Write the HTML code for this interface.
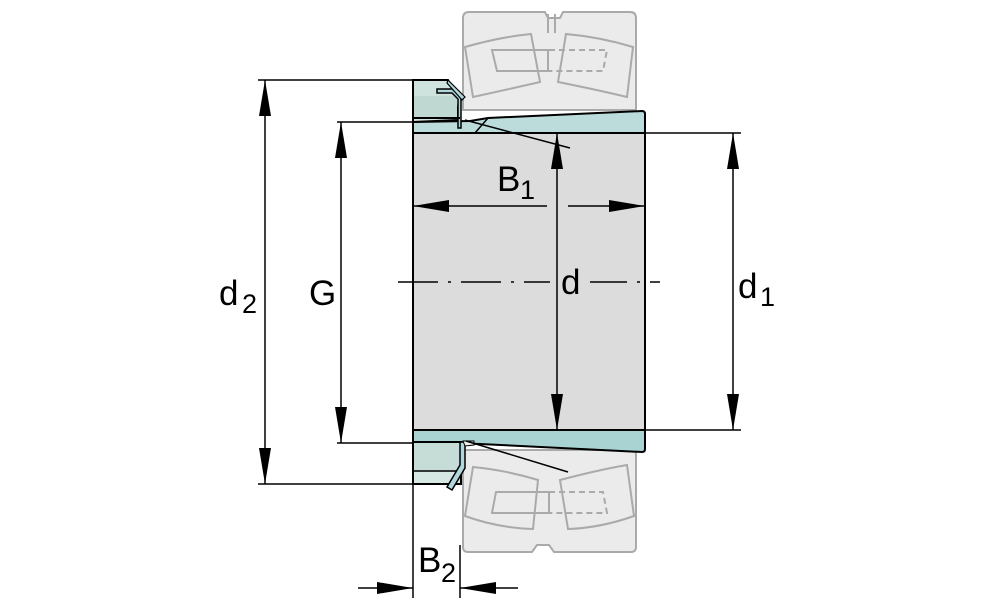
<!DOCTYPE html>
<html><head><meta charset="utf-8"><style>html,body{margin:0;padding:0;background:#fff}svg{display:block}</style></head>
<body>
<svg width="1000" height="611" viewBox="0 0 1000 611" xmlns="http://www.w3.org/2000/svg" font-family="Liberation Sans, sans-serif">
<defs>
<marker id="a" viewBox="0 0 36 12" refX="36" refY="6" markerWidth="36" markerHeight="12" markerUnits="userSpaceOnUse" orient="auto-start-reverse"><path d="M0,0 L36,6 L0,12 z" fill="#000"/></marker>
</defs>
<!-- bearing top -->
<g fill="#ebebeb" stroke="#aaa" stroke-width="2">
<path d="M463,18 q0,-6 6,-6 h76 l3,6 h12 l3,-6 h67 q6,0 6,6 v92 h-173 z"/>
<path d="M465,47 Q500,37 531,34 L540,82 Q505,90 473,97 Z" fill="none"/>
<path d="M566,34 Q600,37 633,47 L627,97 Q598,90 558,82 Z" fill="none"/>
<path d="M492,50 L548,50 L548,71 L497,71 Z" fill="none"/>
<path d="M549,50 L607,50 L603,71 L549,71" fill="none" stroke-dasharray="6,4"/>
<line x1="548" y1="14" x2="548" y2="33"/><line x1="555" y1="14" x2="555" y2="33"/>
</g>
<!-- bearing bottom -->
<g fill="#ebebeb" stroke="#aaa" stroke-width="2">
<path d="M463,450 h173 v97 q0,5 -5,5 h-77 l-5,-7 h-12 l-5,7 h-64 q-5,0 -5,-5 z"/>
<path d="M473,467 Q505,470 538,480 L533,529 Q498,528 465,516 Z" fill="none"/>
<path d="M560,480 Q598,470 627,465 L634,516 Q600,528 568,529 Z" fill="none"/>
<path d="M496,492 L549,492 L549,513 L492,513 Z" fill="none"/>
<path d="M549,492 L603,492 L607,513 L549,513" fill="none" stroke-dasharray="6,4"/>
</g>
<!-- sleeve top -->
<path d="M413,122 L413,133 L645,133 L645,114 Q645,111 642,111 L488,118 L470,121 Z" fill="#bcdcdc" stroke="#000" stroke-width="2"/>
<!-- main body -->
<rect x="413" y="133" width="232" height="297" fill="#dcdcdc" stroke="#000" stroke-width="2"/>
<!-- sleeve bottom -->
<path d="M413,430 L645,430 L645,449 Q645,452 642,452 L480,444 L413,442 Z" fill="#a9d3d3" stroke="#000" stroke-width="2"/>
<!-- nut top -->
<path d="M413,80 L448,80 L455,95 L458,120 L413,122 Z" fill="#cfe3de" stroke="#000" stroke-width="2"/>
<rect x="414" y="96" width="43" height="23" fill="#bfd9d2"/>
<path d="M437,89 L452,89 L461,97 L461,128 L458,128 L458,99 L452,93 L437,93 Z" fill="#b0d8dc" stroke="#000" stroke-width="1.5"/>
<path d="M448,80 L465,97 L462,100 L447,83 Z" fill="#b0d8dc" stroke="#000" stroke-width="1.2"/>
<line x1="413" y1="118" x2="460" y2="118" stroke="#000" stroke-width="2"/>
<!-- nut bottom -->
<path d="M413,442 L461,442 L461,484 L413,484 Z" fill="#c5ddd6" stroke="#000" stroke-width="2"/>
<rect x="414" y="472" width="46" height="11" fill="#d6e8e3"/>
<line x1="413" y1="471" x2="460" y2="471" stroke="#000" stroke-width="1.5"/>
<path d="M460,442 L465,442 L465,468 L452,490 L447,487 L460,465 Z" fill="#b0d8dc" stroke="#000" stroke-width="1.5"/>
<path d="M463,441 L474,441 L474,445 L465,446 Z" fill="#eee" stroke="#000" stroke-width="1"/>
<!-- taper lines -->
<g stroke="#000" stroke-width="1.5">
<line x1="465" y1="120" x2="570" y2="148"/>
<line x1="475" y1="133" x2="488" y2="118"/>
<line x1="466" y1="441" x2="568" y2="472"/>
</g>
<!-- dimension lines -->
<g stroke="#000" stroke-width="1.5" fill="none">
<line x1="258" y1="80" x2="413" y2="80"/>
<line x1="258" y1="484" x2="413" y2="484"/>
<line x1="265" y1="80" x2="265" y2="484" marker-start="url(#a)" marker-end="url(#a)"/>
<line x1="337" y1="122" x2="413" y2="122"/>
<line x1="337" y1="443" x2="413" y2="443"/>
<line x1="341" y1="122" x2="341" y2="443" marker-start="url(#a)" marker-end="url(#a)"/>
<line x1="645" y1="133" x2="741" y2="133"/>
<line x1="645" y1="430" x2="741" y2="430"/>
<line x1="733" y1="133" x2="733" y2="430" marker-start="url(#a)" marker-end="url(#a)"/>
<line x1="557" y1="133" x2="557" y2="430" marker-start="url(#a)" marker-end="url(#a)"/>
<line x1="413" y1="206" x2="547" y2="206" marker-start="url(#a)"/>
<line x1="568" y1="206" x2="645" y2="206" marker-end="url(#a)"/>
<line x1="398" y1="282" x2="660" y2="282" stroke-dasharray="40,10,3,10"/>
<line x1="413" y1="484" x2="413" y2="598"/>
<line x1="460" y1="545" x2="460" y2="598"/>
<line x1="358" y1="588" x2="413" y2="588" marker-end="url(#a)"/>
<line x1="518" y1="588" x2="460" y2="588" marker-end="url(#a)"/>
</g>
<rect x="550" y="262" width="40" height="40" fill="#dcdcdc"/>
<line x1="557" y1="262" x2="557" y2="302" stroke="#000" stroke-width="1.5"/>
<g font-size="35" fill="#000">
<text x="497" y="191">B</text><text x="520" y="199" font-size="27">1</text>
<text x="561" y="294">d</text>
<text x="219" y="305">d</text><text x="242" y="313" font-size="27">2</text>
<text x="309" y="305">G</text>
<text x="738" y="298">d</text><text x="760" y="306" font-size="27">1</text>
<text x="418" y="572">B</text><text x="441" y="582" font-size="27">2</text>
</g>
</svg>
</body></html>
